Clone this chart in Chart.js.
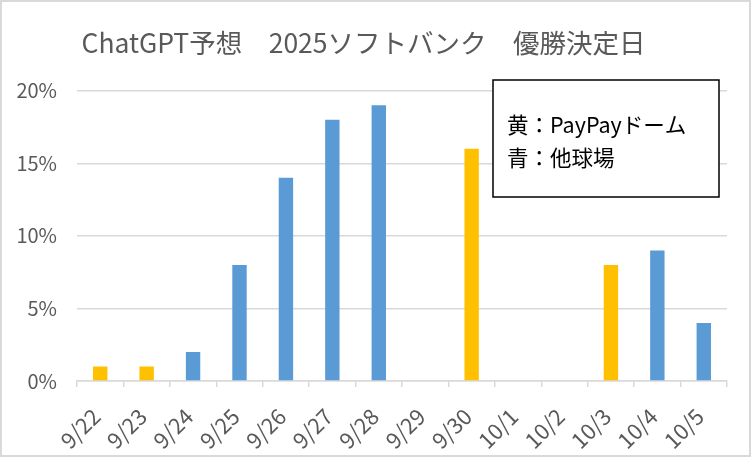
<!DOCTYPE html>
<html>
<head>
<meta charset="utf-8">
<script src="https://cdn.jsdelivr.net/npm/chart.js@4"></script>
<style>
  html, body { margin: 0; padding: 0; background: #fff; }
  #wrap { width: 751px; height: 457px; position: relative; }
</style>
</head>
<body>
<div id="wrap"><canvas id="grafico" width="751" height="457"></canvas></div>
<script>
const titulo = 'ChatGPT予想　2025ソフトバンク　優勝決定日';
const datas = ['9/22', '9/23', '9/24', '9/25', '9/26', '9/27', '9/28', '9/29', '9/30', '10/1', '10/2', '10/3', '10/4', '10/5'];
const probabilidade = [1, 1, 2, 8, 14, 18, 19, 0, 16, 0, 0, 8, 9, 4];
const estadio = ['dome', 'dome', 'other', 'other', 'other', 'other', 'other', 'other', 'dome', 'other', 'other', 'dome', 'other', 'other'];
const ticksY = [0, 5, 10, 15, 20];
const legenda = ['黄：PayPayドーム', '青：他球場'];

const CORES = { dome: '#FFC000', other: '#5B9BD5' };
const CINZA = '#595959';
const FONTE = '"Noto Sans CJK JP", "Noto Sans", sans-serif';

const moldura = {
  id: 'moldura',
  beforeDraw(chart) {
    const ctx = chart.ctx;
    ctx.save();
    ctx.fillStyle = '#fff';
    ctx.fillRect(0, 0, chart.width, chart.height);
    ctx.restore();
  },
  afterDraw(chart) {
    const ctx = chart.ctx;
    ctx.save();
    // borda externa
    ctx.strokeStyle = '#d9d9d9';
    ctx.lineWidth = 2;
    ctx.strokeRect(1, 1, chart.width - 2, chart.height - 2);
    // caixa de texto
    ctx.fillStyle = '#fff';
    ctx.fillRect(493, 80, 226, 117);
    ctx.strokeStyle = '#000';
    ctx.lineWidth = 1.5;
    ctx.strokeRect(493, 80, 226, 117);
    ctx.fillStyle = '#000';
    ctx.font = '21.5px ' + FONTE;
    ctx.textBaseline = 'middle';
    ctx.fillText(legenda[0], 507, 125);
    ctx.fillText(legenda[1], 507, 158);
    ctx.restore();
  },
};

function configurar() {
  const canvas = document.getElementById('grafico');
  new Chart(canvas, {
    type: 'bar',
    data: {
      labels: datas,
      datasets: [
        {
          data: probabilidade,
          backgroundColor: estadio.map((e) => CORES[e]),
          borderWidth: 0,
          categoryPercentage: 1,
          barPercentage: 0.31,
        },
      ],
    },
    options: {
      responsive: false,
      animation: false,
      devicePixelRatio: 1,
      layout: { padding: { left: 0, right: 24, top: 0, bottom: 0 } },
      plugins: {
        legend: { display: false },
        tooltip: { enabled: false },
        title: {
          display: true,
          text: titulo,
          color: CINZA,
          font: { family: FONTE, size: 26.5, weight: 'normal' },
          padding: { top: 27, bottom: 32 },
        },
      },
      scales: {
        x: {
          afterFit: (s) => { s.height = 76; },
          grid: {
            drawOnChartArea: false,
            color: '#d9d9d9',
            lineWidth: 1.5,
            tickLength: 6,
          },
          border: { color: '#d9d9d9', width: 1.5 },
          ticks: {
            color: CINZA,
            font: { family: FONTE, size: 22 },
            minRotation: 45,
            maxRotation: 45,
            padding: 16,
            labelOffset: -4,
          },
        },
        y: {
          min: 0,
          max: 20,
          afterFit: (s) => { s.width = 77; },
          afterBuildTicks: (s) => { s.ticks = ticksY.map((v) => ({ value: v })); },
          grid: { color: '#d9d9d9', lineWidth: 1.5, drawTicks: false },
          border: { display: false },
          ticks: {
            color: CINZA,
            font: { family: FONTE, size: 20 },
            padding: 20,
            callback: (v) => v + '%',
          },
        },
      },
    },
    plugins: [moldura],
  });
}

document.addEventListener('DOMContentLoaded', configurar);
</script>
</body>
</html>
